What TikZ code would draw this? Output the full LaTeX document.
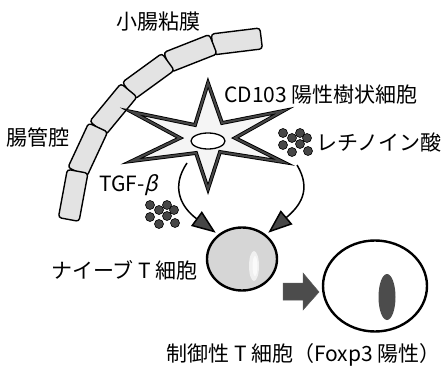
\documentclass[tikz,border=0pt]{standalone}
\usepackage{fontspec}
\newfontfamily\jp{Noto Sans CJK JP}
\usetikzlibrary{arrows.meta,calc,shapes.geometric}

\tikzset{
  lbl/.style={font=\jp\fontsize{21}{23}\selectfont, inner sep=0pt},
  epicell/.style={draw=black, line width=1.4pt, fill=gray!22, rounded corners=3pt,
                  minimum width=49pt, minimum height=21pt, inner sep=0pt},
  dot/.style={circle, fill=gray!55!black, draw=black, line width=0.6pt,
              minimum size=9pt, inner sep=0pt},
  signal/.style={draw=black, line width=1.5pt,
                 -{Triangle[length=24pt,width=18pt,fill=gray!55!black]}},
}

\begin{document}
\begin{tikzpicture}[x=1pt,y=-1pt]
\useasboundingbox (0,0) rectangle (441,374);

% epithelial cells along the mucosal arc
\foreach \a [count=\i] in {97,111.5,126,140.5,155,169.5} {
  \pgfmathsetmacro{\rot}{\a-90}
  \node[epicell, rotate=\rot] (epi\i) at ({260+190*cos(\a)},{230-190*sin(\a)}) {};
}

% dendritic cell (six-pointed star)
\coordinate (s1) at (208,83);
\coordinate (s2) at (222,123);
\coordinate (s3) at (283,111);
\coordinate (s4) at (235,138);
\coordinate (s5) at (283,162);
\coordinate (s6) at (220,152);
\coordinate (s7) at (208,189);
\coordinate (s8) at (196,153);
\coordinate (s9) at (132,161);
\coordinate (s10) at (180,138);
\coordinate (s11) at (132,112);
\coordinate (s12) at (195,125);
\path[fill=gray!8] (s1)--(s2)--(s3)--(s4)--(s5)--(s6)--(s7)--(s8)--(s9)--(s10)--(s11)--(s12)--cycle;
\draw[line width=3.8pt, line join=miter, miter limit=20] (s1)--(s2)--(s3)--(s4)--(s5)--(s6)--(s7)--(s8)--(s9)--(s10)--(s11)--(s12)--cycle;
\draw[line width=2pt, gray!55!black, line join=miter, miter limit=20] (s1)--(s2)--(s3)--(s4)--(s5)--(s6)--(s7)--(s8)--(s9)--(s10)--(s11)--(s12)--cycle;
\draw[line width=1.3pt, fill=white] (208,141) ellipse [x radius=17, y radius=8];
\node (dc) at (208,141) {};

% retinoic acid and TGF-beta particles
\foreach \dx/\dy in {0/0,17/0,9/5,24/5,0/12,17/11,9/19,25/18} {
  \node[dot] at ({283+\dx},{133+\dy}) {};
  \node[dot] at ({150+\dx},{205+\dy}) {};
}

% naive T cell
\node[ellipse, draw=black, line width=2.4pt, fill=gray!32, minimum width=70pt,
      minimum height=63pt, inner sep=0pt] (naive) at (242,259) {};
\fill[gray!12] (254,266) ellipse [x radius=5, y radius=15];
\fill[gray!4] (255,266) ellipse [x radius=2.5, y radius=10];

% regulatory T cell
\node[ellipse, draw=black, line width=2.4pt, fill=white, minimum width=104pt,
      minimum height=91pt, inner sep=0pt] (treg) at (375,286) {};
\fill[gray!60!black] (387,297) ellipse [x radius=8.5, y radius=23];

% signals from the dendritic cell to the naive T cell
\coordinate (la) at (187,163);
\coordinate (ra) at (297,165);
\draw[signal] (la) .. controls (170,188) and (182,208) .. ([shift={(-2,-2)}]naive.135);
\draw[signal] (ra) .. controls (312,190) and (300,206) .. ([shift={(2,-2)}]naive.45);

% differentiation arrow
\draw[draw=gray!70!black, fill=gray!60!black, line width=0.5pt]
  (283,283) -- (303,283) -- (303,273) -- (319,292) -- (303,310) -- (303,300) -- (283,300) -- cycle;

% labels
\node[lbl] (tmuc) at (158,22) {小腸粘膜};
\node[lbl] (tlum) at (38,137) {腸管腔};
\node[lbl, anchor=west] (tdc) at (224,95) {CD103 陽性樹状細胞};
\node[lbl, anchor=west] (tra) at (316,142) {レチノイン酸};
\node[lbl, anchor=west] (ttgf) at (99,185) {TGF-{\addfontfeature{FakeSlant=0.25}β}};
\node[lbl, anchor=east] (tnaive) at (198,270) {ナイーブ T 細胞};
\node[lbl, anchor=east] (ttreg) at (441,355) {制御性 T 細胞（Foxp3 陽性）};
\end{tikzpicture}
\end{document}
